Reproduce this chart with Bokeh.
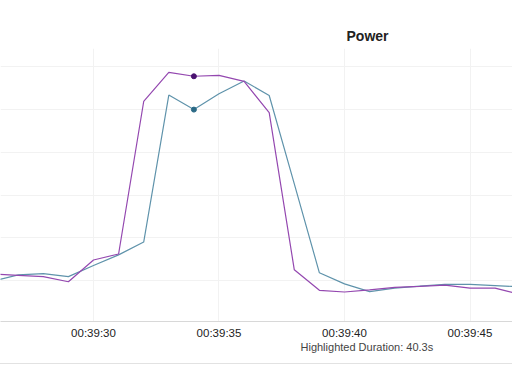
import pandas as pd
from bokeh.plotting import figure
from bokeh.models import FixedTicker, DatetimeTickFormatter, Title, Range1d
from bokeh.embed import file_html
from bokeh.resources import INLINE

# ---- data ----
times = ["00:39:25", "00:39:26", "00:39:27", "00:39:28", "00:39:29", "00:39:30",
         "00:39:31", "00:39:32", "00:39:33", "00:39:34", "00:39:35", "00:39:36",
         "00:39:37", "00:39:38", "00:39:39", "00:39:40", "00:39:41", "00:39:42",
         "00:39:43", "00:39:44", "00:39:45", "00:39:46", "00:39:47"]
power_a = [116, 115, 112, 109, 97, 148, 162, 519, 587, 578, 580, 566,
           493, 125, 77, 73, 78, 84, 86, 89, 82, 82, 67]          # purple
power_b = [96, 99, 113, 116, 109, 135, 160, 190, 534, 500, 537, 567,
           533, 326, 118, 92, 74, 82, 87, 91, 91, 88, 85]          # teal
highlight_time = "00:39:34"
highlight_a = 578
highlight_b = 500
x_ticks = ["00:39:30", "00:39:35", "00:39:40", "00:39:45"]
y_ticks = [100, 200, 300, 400, 500, 600]
x_view = ["00:39:26.295", "00:39:46.693"]
y_view = [4, 643]
title_text = "Power"
note_text = "Highlighted Duration: 40.3s"

def to_dt(lst):
    return pd.to_datetime(["1970-01-01 " + t for t in lst])

xs = to_dt(times)
xv = to_dt(x_view)
xt = [int(t.value // 10**6) for t in to_dt(x_ticks)]
hx = to_dt([highlight_time])

FONT = "Liberation Sans"

p = figure(width=512, height=364, output_backend="svg", toolbar_location=None,
           x_axis_type="datetime", y_axis_location=None,
           x_range=Range1d(xv[0], xv[1]), y_range=Range1d(y_view[0], y_view[1]),
           min_border_left=0, min_border_right=0, min_border_top=48, min_border_bottom=43)
p.styles = {"border-bottom": "1px solid #e2e2e2"}
p.outline_line_color = None
p.background_fill_color = "white"
p.border_fill_color = "white"

p.title.text = title_text
p.title.align = "left"
p.title.offset = 346
p.title.text_font = FONT
p.title.text_font_size = "14px"
p.title.text_font_style = "bold"
p.title.text_color = "#222222"
p.title.standoff = 9

p.line(xs, power_b, line_color="#5f93ab", line_width=1.2)
p.line(xs, power_a, line_color="#9448b0", line_width=1.2)
p.scatter(hx, [highlight_a], size=5, fill_color="#4a1270", line_color="#4a1270")
p.scatter(hx, [highlight_b], size=5, fill_color="#2b6a86", line_color="#2b6a86")

ax = p.xaxis[0]
ax.ticker = FixedTicker(ticks=xt)
ax.formatter = DatetimeTickFormatter(seconds="%H:%M:%S", minsec="%H:%M:%S",
                                     minutes="%H:%M:%S", milliseconds="%H:%M:%S")
ax.axis_line_color = "#d8d8d8"
ax.major_tick_line_color = None
ax.minor_tick_line_color = None
ax.major_tick_out = 0
ax.minor_tick_out = 0
ax.major_label_text_font = FONT
ax.major_label_text_font_size = "11.5px"
ax.major_label_text_color = "#222222"
ax.major_label_standoff = 5

p.xgrid.ticker = FixedTicker(ticks=xt)
p.ygrid.ticker = FixedTicker(ticks=y_ticks)
p.xgrid.grid_line_color = "#f2f2f2"
p.ygrid.grid_line_color = "#f2f2f2"

note = Title(text=note_text, align="left", offset=300, text_font=FONT,
             text_font_size="11px", text_font_style="normal", text_color="#444444",
             standoff=-5)
p.add_layout(note, "below")

open("out.html", "w").write(file_html(p, INLINE))
